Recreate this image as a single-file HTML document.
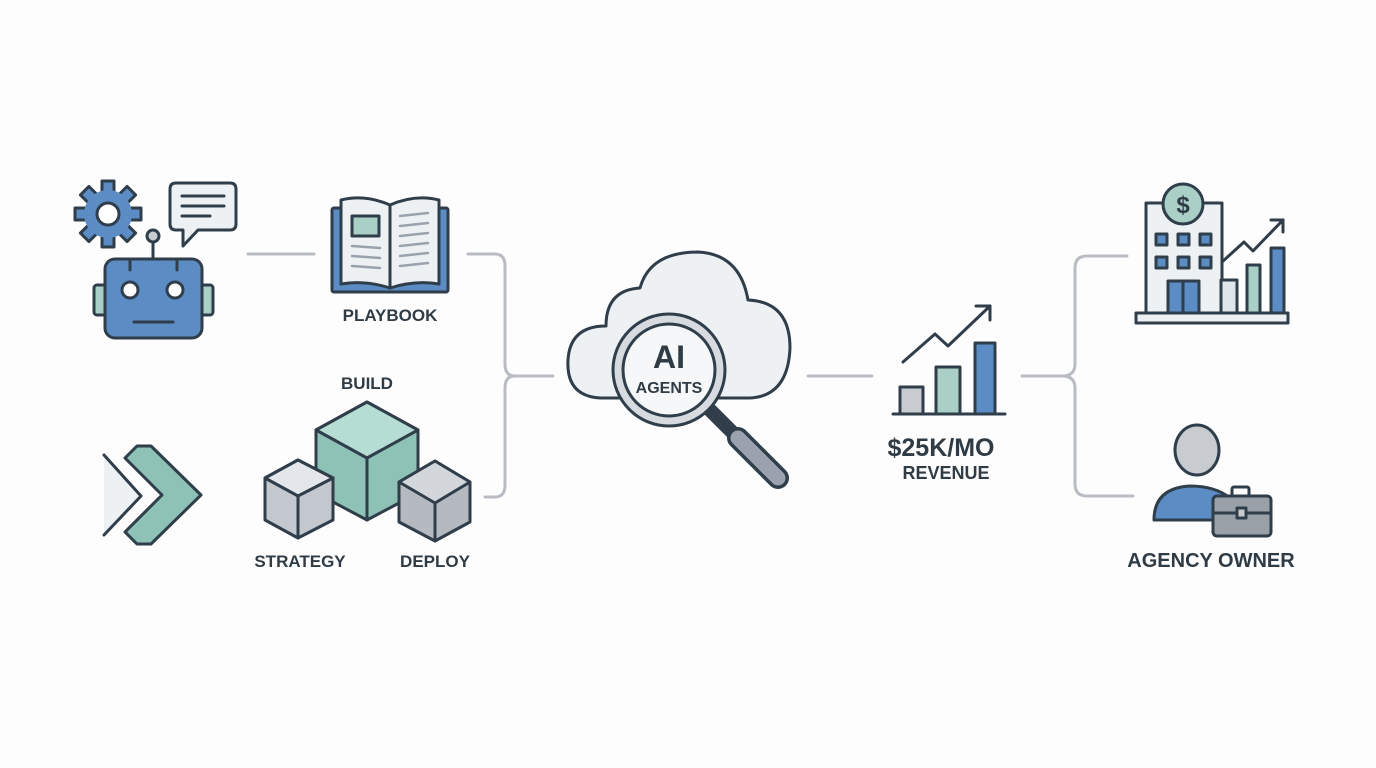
<!DOCTYPE html>
<html><head><meta charset="utf-8"><style>
html,body{margin:0;padding:0;background:#fdfdfd;}
svg{display:block}
text{font-family:"Liberation Sans",sans-serif;font-weight:bold;fill:#2f3b45;text-anchor:middle}
</style></head><body>
<svg width="1376" height="768" viewBox="0 0 1376 768" xmlns="http://www.w3.org/2000/svg">
<rect width="1376" height="768" fill="#fdfdfd"/>
<g fill="none" stroke="#b9bdc3" stroke-width="3" stroke-linecap="round">
<line x1="248" y1="254" x2="314" y2="254"/>
<path d="M468 254 H495 Q505 254 505 266 V364 Q505 376 515 376 H553"/>
<path d="M485 497 H495 Q505 497 505 485 V388 Q505 376 515 376"/>
<line x1="808" y1="376" x2="872" y2="376"/>
<path d="M1022 376 H1062 Q1075 376 1075 364 V268 Q1075 256 1087 256 H1127"/>
<path d="M1062 376 Q1075 376 1075 388 V484 Q1075 496 1087 496 H1133"/>
</g>
<g stroke="#2f3e4a" stroke-width="3" stroke-linejoin="round" stroke-linecap="round">
<!-- gear -->
<g transform="translate(108,214)">
<g fill="#5b8cc4">
<rect x="-6" y="-33" width="12" height="12"/>
<rect x="-6" y="-33" width="12" height="12" transform="rotate(45)"/>
<rect x="-6" y="-33" width="12" height="12" transform="rotate(90)"/>
<rect x="-6" y="-33" width="12" height="12" transform="rotate(135)"/>
<rect x="-6" y="-33" width="12" height="12" transform="rotate(180)"/>
<rect x="-6" y="-33" width="12" height="12" transform="rotate(225)"/>
<rect x="-6" y="-33" width="12" height="12" transform="rotate(270)"/>
<rect x="-6" y="-33" width="12" height="12" transform="rotate(315)"/>
</g>
<circle r="24" fill="#5b8cc4" stroke="none"/>
<circle r="11" fill="#fff"/>
</g>
<!-- bubble -->
<path d="M176 183 H230 Q236 183 236 189 V224 Q236 230 230 230 H198 L183 246 V230 H176 Q170 230 170 224 V189 Q170 183 176 183Z" fill="#eef1f4"/>
<line x1="182" y1="196" x2="224" y2="196"/><line x1="182" y1="206" x2="224" y2="206"/><line x1="182" y1="216" x2="210" y2="216"/>
<!-- robot -->
<line x1="153" y1="241" x2="153" y2="259"/>
<circle cx="153" cy="236" r="6" fill="#c8cbd0"/>
<rect x="94" y="285" width="13" height="30" rx="3" fill="#a9cfc6"/>
<rect x="200" y="285" width="13" height="30" rx="3" fill="#a9cfc6"/>
<rect x="105" y="259" width="97" height="79" rx="10" fill="#5b8cc4"/>
<line x1="130" y1="260" x2="130" y2="270"/><line x1="177" y1="260" x2="177" y2="270"/>
<circle cx="130" cy="290" r="8" fill="#fff"/><circle cx="175" cy="290" r="8" fill="#fff"/>
<line x1="134" y1="322" x2="173" y2="322"/>
<!-- book -->
<rect x="332" y="208" width="116" height="84" rx="2" fill="#5b8cc4"/>
<path d="M341 200 Q365 194 390 205 V288 Q365 280 341 284Z" fill="#eef1f4"/>
<path d="M439 200 Q415 194 390 205 V288 Q415 280 439 284Z" fill="#eef1f4"/>
<rect x="352" y="216" width="27" height="20" fill="#a9cfc6"/>
<g stroke="#9aa3ad" stroke-width="2.5">
<line x1="352" y1="246" x2="380" y2="248"/><line x1="352" y1="256" x2="380" y2="258"/><line x1="352" y1="266" x2="380" y2="268"/>
<line x1="400" y1="216" x2="428" y2="213"/><line x1="400" y1="226" x2="428" y2="223"/><line x1="400" y1="236" x2="428" y2="233"/><line x1="400" y1="246" x2="428" y2="243"/><line x1="400" y1="256" x2="428" y2="253"/><line x1="400" y1="266" x2="428" y2="263"/>
</g>
<!-- chevrons -->
<path d="M104 455 L141 496 L104 535" fill="#eef1f4" stroke="#2f3e4a"/>
<path d="M137 446 L151 446 L201 495 L151 544 L137 544 L125 532 L162 495 L125 458Z" fill="#8fc2b7"/>
<!-- cubes -->
<path d="M316 430 L367 402 L418 430 V493 L367 520 L316 493Z" fill="#8fc2b7"/>
<path d="M316 430 L367 402 L418 430 L367 458Z" fill="#b5ddd4"/>
<line x1="367" y1="458" x2="367" y2="520"/>
<path d="M265 478 L298 460 L333 478 V520 L298 538 L265 520Z" fill="#c3c8cf"/>
<path d="M265 478 L298 460 L333 478 L298 496Z" fill="#e3e6ea"/>
<line x1="298" y1="496" x2="298" y2="538"/>
<path d="M399 482 L435 461 L470 482 V522 L435 541 L399 522Z" fill="#b5b9c0"/>
<path d="M399 482 L435 461 L470 482 L435 503Z" fill="#d3d6db"/>
<line x1="435" y1="503" x2="435" y2="541"/>
<!-- cloud -->
<path d="M600 398 Q566 396 568 360 Q570 326 606 326 Q606 290 640 288 Q650 252 698 252 Q740 254 748 300 Q790 302 790 348 Q788 396 750 398Z" fill="#eef1f4"/>
</g>
<!-- magnifier handle -->
<g stroke-linecap="round">
<line x1="710" y1="410" x2="732" y2="432" stroke="#2f3e4a" stroke-width="14"/>
<line x1="738" y1="438" x2="778" y2="478" stroke="#2f3e4a" stroke-width="22"/>
<line x1="738" y1="438" x2="778" y2="478" stroke="#9aa3ad" stroke-width="15"/>
</g>
<g stroke="#2f3e4a" stroke-width="3" stroke-linejoin="round" stroke-linecap="round">
<circle cx="669" cy="370" r="56" fill="#d7dbe0"/>
<circle cx="669" cy="370" r="46" fill="#f6f7f8"/>
<!-- revenue chart -->
<line x1="893" y1="414" x2="1005" y2="414"/>
<rect x="900" y="387" width="23" height="27" fill="#c8cbd0"/>
<rect x="936" y="367" width="24" height="47" fill="#a9cfc6"/>
<rect x="975" y="343" width="20" height="71" fill="#5b8cc4"/>
<polyline points="903,362 935,334 948,346 990,306" fill="none"/>
<polyline points="976,306 990,306 990,320" fill="none"/>
<!-- building -->
<rect x="1146" y="203" width="76" height="110" fill="#eef1f4"/>
<circle cx="1183" cy="204" r="20" fill="#a9cfc6"/>
<g fill="#5b8cc4">
<rect x="1156" y="234" width="11" height="11"/><rect x="1178" y="234" width="11" height="11"/><rect x="1200" y="234" width="11" height="11"/>
<rect x="1156" y="257" width="11" height="11"/><rect x="1178" y="257" width="11" height="11"/><rect x="1200" y="257" width="11" height="11"/>
<rect x="1168" y="281" width="31" height="32"/>
</g>
<line x1="1183" y1="281" x2="1183" y2="313"/>
<rect x="1221" y="280" width="16" height="33" fill="#dfe6ea"/>
<rect x="1247" y="265" width="13" height="48" fill="#a9cfc6"/>
<rect x="1271" y="248" width="13" height="65" fill="#5b8cc4"/>
<rect x="1136" y="313" width="152" height="10" fill="#eef1f4"/>
<polyline points="1222,270 1222,262 1244,242 1253,251 1283,220" fill="none"/>
<polyline points="1271,220 1283,220 1283,232" fill="none"/>
<!-- person -->
<path d="M1154 520 Q1154 488 1190 486 Q1215 486 1230 498 V520Z" fill="#5b8cc4"/>
<ellipse cx="1197" cy="450" rx="22" ry="25" fill="#c8cbd0"/>
<rect x="1232" y="487" width="17" height="10" rx="2" fill="none"/>
<rect x="1213" y="496" width="58" height="40" rx="4" fill="#9aa0a8"/>
<line x1="1213" y1="513" x2="1271" y2="513"/>
<rect x="1237" y="508" width="9" height="10" fill="#c8cbd0"/>
</g>
<text x="1183" y="213" font-size="24" style="font-weight:bold">$</text>
<text x="390" y="321" font-size="17">PLAYBOOK</text>
<text x="367" y="389" font-size="17">BUILD</text>
<text x="300" y="567" font-size="17">STRATEGY</text>
<text x="435" y="567" font-size="17">DEPLOY</text>
<text x="669" y="368" font-size="32">AI</text>
<text x="669" y="393" font-size="16">AGENTS</text>
<text x="941" y="456" font-size="25">$25K/MO</text>
<text x="946" y="479" font-size="18">REVENUE</text>
<text x="1211" y="567" font-size="20">AGENCY OWNER</text>
</svg>
</body></html>
